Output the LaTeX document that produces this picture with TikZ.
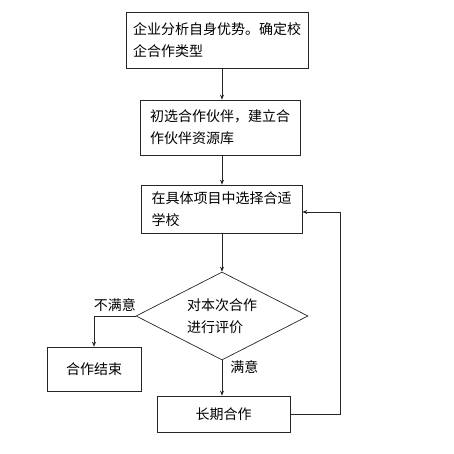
\documentclass[tikz,border=0pt]{standalone}
\usepackage{fontspec}
\newfontfamily\cjk{Noto Sans CJK SC}
\usepackage{tikz}
\usetikzlibrary{shapes.geometric,arrows.meta}

\begin{document}
\begin{tikzpicture}[x=1pt, y=-1pt, font=\cjk\fontsize{14}{22}\selectfont,
    line width=0.7pt, draw=black!85, >={Stealth[length=5pt,width=4pt]}]
    \useasboundingbox (0,0) rectangle (454,454);
    \draw[every node/.style={rectangle, draw, align=left, inner sep=0pt}]
        (217, 40) node[minimum width=182, minimum height=56] (1){企业分析自身优势。确定校\\企合作类型}
        (220, 127.5) node[minimum width=160, minimum height=55] (2){初选合作伙伴，建立合\\作伙伴资源库}
        (221.5, 209) node[minimum width=161, minimum height=48] (3){在具体项目中选择合适\\学校}
        (222, 316) node[diamond, minimum width=172, minimum height=88, aspect=1.95] (4){对本次合作\\进行评价}
        (94, 369) node[minimum width=94, minimum height=44] (5){合作结束}
        (223.5, 414) node[minimum width=133, minimum height=36] (6){长期合作};
    \begin{scope}[->]
        \draw (1.south -| 4) to (2.north -| 4);
        \draw (2.south -| 4) to (3.north -| 4);
        \draw (3.south -| 4) to (4.north);
        \draw (4.west) -| node[pos=0.25, above, inner sep=4pt] (no){不满意} (5.north);
        \draw (4.south) to node[pos=0.2, right, inner sep=8pt] (yes){满意} (6.north -| 4);
        \draw (6.east) -- ++(50,0) |- ([yshift=-3pt]3.east);
    \end{scope}
\end{tikzpicture}
\end{document}
